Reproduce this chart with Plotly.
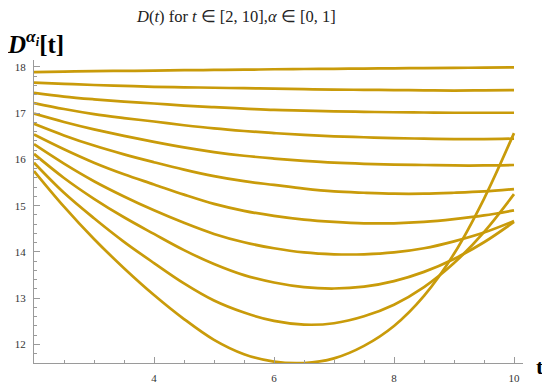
import plotly.graph_objects as go

# sample times (x), half-step grid
t = [2, 2.5, 3, 3.5, 4, 4.5, 5, 5.5, 6, 6.5, 7, 7.5, 8, 8.5, 9, 9.5, 10]

# one curve per alpha value
C1 = [17.89, 17.90, 17.91, 17.915, 17.92, 17.93, 17.935, 17.94, 17.95,
      17.955, 17.96, 17.965, 17.97, 17.975, 17.98, 17.985, 17.99]
C2 = [17.66, 17.635, 17.61, 17.59, 17.57, 17.56, 17.55, 17.54, 17.53,
      17.52, 17.51, 17.505, 17.50, 17.495, 17.49, 17.495, 17.50]
C3 = [17.44, 17.36, 17.30, 17.25, 17.21, 17.165, 17.13, 17.10, 17.07,
      17.055, 17.04, 17.03, 17.02, 17.015, 17.01, 17.01, 17.01]
C4 = [17.22, 17.09, 16.98, 16.895, 16.82, 16.74, 16.67, 16.615, 16.57,
      16.53, 16.50, 16.48, 16.46, 16.45, 16.44, 16.44, 16.45]
C5 = [16.99, 16.81, 16.65, 16.51, 16.38, 16.26, 16.16, 16.08, 16.02,
      15.97, 15.93, 15.905, 15.89, 15.88, 15.87, 15.87, 15.88]
C6 = [16.77, 16.52, 16.30, 16.11, 15.94, 15.78, 15.64, 15.53, 15.45,
      15.37, 15.31, 15.28, 15.26, 15.26, 15.28, 15.31, 15.36]
C7 = [16.54, 16.22, 15.93, 15.68, 15.46, 15.24, 15.04, 14.89, 14.78,
      14.70, 14.65, 14.62, 14.62, 14.65, 14.71, 14.79, 14.90]
C8 = [16.33, 15.91, 15.53, 15.20, 14.90, 14.63, 14.39, 14.21, 14.08,
      13.99, 13.95, 13.95, 13.99, 14.08, 14.23, 14.42, 14.67]
C9 = [16.12, 15.60, 15.15, 14.75, 14.39, 14.04, 13.74, 13.50, 13.34,
      13.24, 13.21, 13.25, 13.37, 13.57, 13.85, 14.21, 14.65]
C10 = [15.93, 15.28, 14.73, 14.22, 13.76, 13.32, 12.95, 12.69, 12.51,
       12.43, 12.46, 12.61, 12.86, 13.24, 13.76, 14.43, 15.25]
C11 = [15.75, 14.98, 14.28, 13.65, 13.07, 12.55, 12.10, 11.79, 11.63,
       11.60, 11.70, 11.97, 12.40, 13.05, 13.96, 15.15, 16.57]

x_tickvals = [4, 6, 8, 10]
y_tickvals = [12, 13, 14, 15, 16, 17, 18]

series = [C1, C2, C3, C4, C5, C6, C7, C8, C9, C10, C11]

GOLD = "rgb(201,155,10)"
AXIS = "#9a9a9a"
SERIF = "Liberation Serif, Times New Roman, serif"

fig = go.Figure()
for ys in series:
    fig.add_trace(go.Scatter(
        x=t, y=ys, mode="lines",
        line=dict(color=GOLD, width=2.7, shape="spline", smoothing=1.0),
        showlegend=False, hoverinfo="skip"))

# the page body adds an 8 px offset; margins compensate for it
fig.update_layout(
    width=550, height=390,
    margin=dict(l=26, r=35, t=52, b=35),
    paper_bgcolor="white", plot_bgcolor="white",
    xaxis=dict(
        range=[2, 10.15], showgrid=False, zeroline=False, automargin=False,
        showline=True, linecolor=AXIS, linewidth=1,
        ticks="inside", ticklen=6, tickcolor=AXIS, tickwidth=1,
        tickmode="array", tickvals=x_tickvals,
        ticktext=[str(v) for v in x_tickvals],
        tickfont=dict(family=SERIF, size=11, color="#333"),
        ticklabelstandoff=5,
        minor=dict(ticks="inside", ticklen=3, tick0=2, dtick=0.5,
                   tickcolor=AXIS, showgrid=False),
    ),
    yaxis=dict(
        range=[11.6, 18.15], showgrid=False, zeroline=False, automargin=False,
        showline=True, linecolor=AXIS, linewidth=1,
        ticks="inside", ticklen=6, tickcolor=AXIS, tickwidth=1,
        tickmode="array", tickvals=y_tickvals,
        ticktext=[str(v) for v in y_tickvals],
        tickfont=dict(family=SERIF, size=11, color="#333"),
        ticklabelstandoff=5,
        minor=dict(ticks="inside", ticklen=3, tick0=12, dtick=0.2,
                   tickcolor=AXIS, showgrid=False),
    ),
    annotations=[
        dict(text="<i>D</i>(<i>t</i>) for <i>t</i> ∈ [2, 10],<i>α</i> ∈ [0, 1]",
             xref="paper", yref="paper", x=0.413, y=1.145,
             xanchor="center", yanchor="middle", showarrow=False,
             font=dict(family=SERIF, size=16.5, color="#222")),
        dict(text="<b><i>D</i><sup><i>α<sub>i</sub></i></sup>[t]</b>",
             xref="paper", yref="paper", x=-0.059, y=1.06,
             xanchor="left", yanchor="middle", showarrow=False,
             font=dict(family=SERIF, size=25, color="black")),
        dict(text="<b>t</b>",
             xref="paper", yref="paper", x=1.035, y=-0.012,
             xanchor="center", yanchor="middle", showarrow=False,
             font=dict(family=SERIF, size=22, color="black")),
    ],
)

fig.write_html("out.html")
